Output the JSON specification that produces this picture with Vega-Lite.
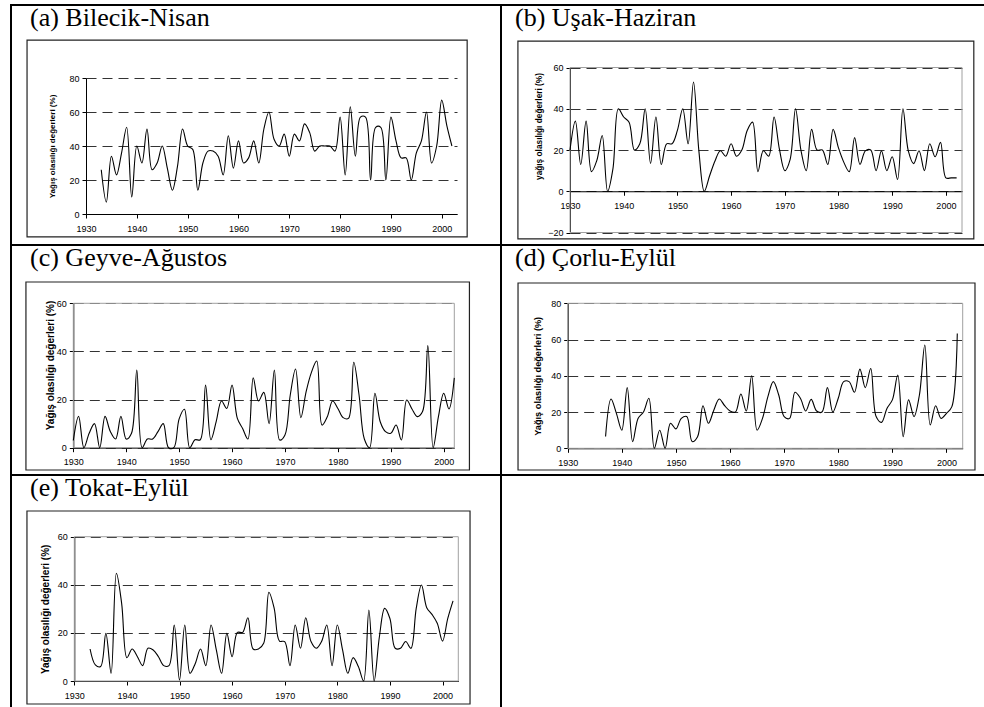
{
  "$schema": "https://vega.github.io/schema/vega-lite/v6.json",
  "padding": {"left": 10, "top": 4, "right": -4, "bottom": -9},
  "background": "white",
  "config": {
    "view": {"stroke": "black", "strokeWidth": 2},
    "title": {"anchor": "start", "frame": "group", "offset": -26, "baseline": "alphabetic", "font": "Times New Roman, Liberation Serif, Tinos, serif", "fontSize": 26, "fontWeight": "normal", "color": "black"},
    "axis": {"labelFont": "Liberation Sans", "labelFontSize": 9, "labelColor": "black", "domainColor": "black", "domainWidth": 1, "tickColor": "black", "tickSize": 4, "titleFont": "Liberation Sans", "titleFontWeight": "bold", "titleColor": "black", "gridColor": "#333333", "gridDash": [10, 6], "gridWidth": 1, "labelOverlap": false, "labelFlush": false}
  },
  "datasets": {
    "a": [
      {"year":1933,"value":26},{"year":1934,"value":7},{"year":1935,"value":34},{"year":1936,"value":23},{"year":1937,"value":36},{"year":1938,"value":51},{"year":1939,"value":10},{"year":1940,"value":40},{"year":1941,"value":30},{"year":1942,"value":50},{"year":1943,"value":26},{"year":1944,"value":30},{"year":1945,"value":40},{"year":1946,"value":27},{"year":1947,"value":14},{"year":1948,"value":28},{"year":1949,"value":50},{"year":1950,"value":40},{"year":1951,"value":38},{"year":1952,"value":14},{"year":1953,"value":30},{"year":1954,"value":37},{"year":1955,"value":37},{"year":1956,"value":34},{"year":1957,"value":23},{"year":1958,"value":46},{"year":1959,"value":27},{"year":1960,"value":43},{"year":1961,"value":30},{"year":1962,"value":33},{"year":1963,"value":43},{"year":1964,"value":30},{"year":1965,"value":50},{"year":1966,"value":60},{"year":1967,"value":44},{"year":1968,"value":40},{"year":1969,"value":47},{"year":1970,"value":34},{"year":1971,"value":47},{"year":1972,"value":43},{"year":1973,"value":53},{"year":1974,"value":48},{"year":1975,"value":37},{"year":1976,"value":40},{"year":1977,"value":40},{"year":1978,"value":40},{"year":1979,"value":37},{"year":1980,"value":57},{"year":1981,"value":23},{"year":1982,"value":63},{"year":1983,"value":34},{"year":1984,"value":57},{"year":1985,"value":57},{"year":1986,"value":20},{"year":1987,"value":51},{"year":1988,"value":51},{"year":1989,"value":20},{"year":1990,"value":57},{"year":1991,"value":43},{"year":1992,"value":33},{"year":1993,"value":33},{"year":1994,"value":20},{"year":1995,"value":36},{"year":1996,"value":43},{"year":1997,"value":60},{"year":1998,"value":30},{"year":1999,"value":40},{"year":2000,"value":67},{"year":2001,"value":52},{"year":2002,"value":40}
    ],
    "b": [
      {"year":1930,"value":20},{"year":1931,"value":34},{"year":1932,"value":13},{"year":1933,"value":34},{"year":1934,"value":9.5},{"year":1935,"value":15},{"year":1936,"value":27},{"year":1937,"value":0},{"year":1938,"value":11},{"year":1939,"value":40},{"year":1940,"value":36},{"year":1941,"value":33.5},{"year":1942,"value":20},{"year":1943,"value":23},{"year":1944,"value":40},{"year":1945,"value":13.5},{"year":1946,"value":36},{"year":1947,"value":13},{"year":1948,"value":23},{"year":1949,"value":23},{"year":1950,"value":29.5},{"year":1951,"value":40},{"year":1952,"value":23},{"year":1953,"value":53},{"year":1954,"value":19.6},{"year":1955,"value":0},{"year":1956,"value":7.5},{"year":1957,"value":14.7},{"year":1958,"value":19.6},{"year":1959,"value":17},{"year":1960,"value":23},{"year":1961,"value":17},{"year":1962,"value":20},{"year":1963,"value":29.5},{"year":1964,"value":33.5},{"year":1965,"value":9.5},{"year":1966,"value":19.6},{"year":1967,"value":17},{"year":1968,"value":36},{"year":1969,"value":20.4},{"year":1970,"value":10},{"year":1971,"value":15.5},{"year":1972,"value":40},{"year":1973,"value":20},{"year":1974,"value":10},{"year":1975,"value":30},{"year":1976,"value":20},{"year":1977,"value":20},{"year":1978,"value":13},{"year":1979,"value":30},{"year":1980,"value":21},{"year":1981,"value":14},{"year":1982,"value":9.5},{"year":1983,"value":26},{"year":1984,"value":13},{"year":1985,"value":19.6},{"year":1986,"value":20},{"year":1987,"value":10},{"year":1988,"value":19.6},{"year":1989,"value":10},{"year":1990,"value":16.7},{"year":1991,"value":5.7},{"year":1992,"value":40},{"year":1993,"value":19.6},{"year":1994,"value":13.4},{"year":1995,"value":19.6},{"year":1996,"value":10},{"year":1997,"value":23},{"year":1998,"value":16.7},{"year":1999,"value":23.7},{"year":2000,"value":6.5},{"year":2001,"value":6.5},{"year":2002,"value":6.5}
    ],
    "c": [
      {"year":1930,"value":3},{"year":1931,"value":13},{"year":1932,"value":0},{"year":1933,"value":6},{"year":1934,"value":10},{"year":1935,"value":0},{"year":1936,"value":13},{"year":1937,"value":6.7},{"year":1938,"value":3.6},{"year":1939,"value":13},{"year":1940,"value":3.6},{"year":1941,"value":6},{"year":1942,"value":32.3},{"year":1943,"value":0},{"year":1944,"value":3.6},{"year":1945,"value":3.6},{"year":1946,"value":6.7},{"year":1947,"value":10},{"year":1948,"value":0},{"year":1949,"value":0},{"year":1950,"value":12},{"year":1951,"value":16},{"year":1952,"value":0},{"year":1953,"value":3.3},{"year":1954,"value":3.3},{"year":1955,"value":26},{"year":1956,"value":3.3},{"year":1957,"value":10.8},{"year":1958,"value":19.4},{"year":1959,"value":16.3},{"year":1960,"value":26},{"year":1961,"value":12.2},{"year":1962,"value":8},{"year":1963,"value":3.6},{"year":1964,"value":29},{"year":1965,"value":19.4},{"year":1966,"value":23},{"year":1967,"value":10},{"year":1968,"value":32.3},{"year":1969,"value":3.2},{"year":1970,"value":5.3},{"year":1971,"value":21.9},{"year":1972,"value":32.7},{"year":1973,"value":12.5},{"year":1974,"value":23.3},{"year":1975,"value":31.3},{"year":1976,"value":36},{"year":1977,"value":9.4},{"year":1978,"value":12.9},{"year":1979,"value":19.4},{"year":1980,"value":16.3},{"year":1981,"value":12.5},{"year":1982,"value":12.2},{"year":1983,"value":35.5},{"year":1984,"value":21.9},{"year":1985,"value":3.6},{"year":1986,"value":0},{"year":1987,"value":22.6},{"year":1988,"value":10.8},{"year":1989,"value":6.7},{"year":1990,"value":6},{"year":1991,"value":9.4},{"year":1992,"value":3.2},{"year":1993,"value":19.8},{"year":1994,"value":16.1},{"year":1995,"value":12.9},{"year":1996,"value":15},{"year":1997,"value":42.4},{"year":1998,"value":0},{"year":1999,"value":12.9},{"year":2000,"value":22.6},{"year":2001,"value":16.1},{"year":2002,"value":29}
    ],
    "d": [
      {"year":1937,"value":6.5},{"year":1938,"value":27.2},{"year":1939,"value":19.3},{"year":1940,"value":10},{"year":1941,"value":33.5},{"year":1942,"value":3.7},{"year":1943,"value":16.5},{"year":1944,"value":20},{"year":1945,"value":27.6},{"year":1946,"value":0},{"year":1947,"value":10},{"year":1948,"value":0},{"year":1949,"value":13.8},{"year":1950,"value":10.7},{"year":1951,"value":16.5},{"year":1952,"value":17.5},{"year":1953,"value":3.7},{"year":1954,"value":6.4},{"year":1955,"value":23.5},{"year":1956,"value":13.8},{"year":1957,"value":21},{"year":1958,"value":27.2},{"year":1959,"value":23.5},{"year":1960,"value":20.6},{"year":1961,"value":20},{"year":1962,"value":30},{"year":1963,"value":20.6},{"year":1964,"value":40},{"year":1965,"value":10},{"year":1966,"value":16.5},{"year":1967,"value":28.5},{"year":1968,"value":36.8},{"year":1969,"value":29.4},{"year":1970,"value":17.5},{"year":1971,"value":16.5},{"year":1972,"value":30.9},{"year":1973,"value":27.6},{"year":1974,"value":20.6},{"year":1975,"value":27},{"year":1976,"value":20.6},{"year":1977,"value":20},{"year":1978,"value":33.5},{"year":1979,"value":20},{"year":1980,"value":27.6},{"year":1981,"value":36.8},{"year":1982,"value":36.8},{"year":1983,"value":30.9},{"year":1984,"value":43.7},{"year":1985,"value":33.5},{"year":1986,"value":44},{"year":1987,"value":17.5},{"year":1988,"value":14.3},{"year":1989,"value":22},{"year":1990,"value":26.7},{"year":1991,"value":40.4},{"year":1992,"value":6.4},{"year":1993,"value":26.7},{"year":1994,"value":17.5},{"year":1995,"value":29.4},{"year":1996,"value":57},{"year":1997,"value":12.9},{"year":1998,"value":23.5},{"year":1999,"value":16.5},{"year":2000,"value":19.3},{"year":2001,"value":23},{"year":2002,"value":63.4}
    ],
    "e": [
      {"year":1933,"value":13.3},{"year":1934,"value":6.7},{"year":1935,"value":6},{"year":1936,"value":19.8},{"year":1937,"value":3.2},{"year":1938,"value":44.8},{"year":1939,"value":32.3},{"year":1940,"value":9.7},{"year":1941,"value":13.3},{"year":1942,"value":10.1},{"year":1943,"value":6.4},{"year":1944,"value":13.6},{"year":1945,"value":12.9},{"year":1946,"value":10.1},{"year":1947,"value":6.4},{"year":1948,"value":6.4},{"year":1949,"value":23.3},{"year":1950,"value":0.4},{"year":1951,"value":23.3},{"year":1952,"value":3.2},{"year":1953,"value":7.3},{"year":1954,"value":13.3},{"year":1955,"value":6.4},{"year":1956,"value":23.3},{"year":1957,"value":12.9},{"year":1958,"value":3.2},{"year":1959,"value":19.8},{"year":1960,"value":10.1},{"year":1961,"value":20.2},{"year":1962,"value":20.2},{"year":1963,"value":26.3},{"year":1964,"value":13.3},{"year":1965,"value":13.3},{"year":1966,"value":15.7},{"year":1967,"value":36.9},{"year":1968,"value":30.2},{"year":1969,"value":16.6},{"year":1970,"value":16.4},{"year":1971,"value":6.4},{"year":1972,"value":23.3},{"year":1973,"value":13.6},{"year":1974,"value":26.3},{"year":1975,"value":16.4},{"year":1976,"value":13.6},{"year":1977,"value":16.4},{"year":1978,"value":23.3},{"year":1979,"value":6.4},{"year":1980,"value":23.3},{"year":1981,"value":12.9},{"year":1982,"value":3.2},{"year":1983,"value":9.7},{"year":1984,"value":6},{"year":1985,"value":0},{"year":1986,"value":29.5},{"year":1987,"value":0},{"year":1988,"value":18.4},{"year":1989,"value":30.2},{"year":1990,"value":26},{"year":1991,"value":13.6},{"year":1992,"value":13.6},{"year":1993,"value":16.4},{"year":1994,"value":13.6},{"year":1995,"value":30.2},{"year":1996,"value":39.9},{"year":1997,"value":30.5},{"year":1998,"value":27.7},{"year":1999,"value":24},{"year":2000,"value":16.6},{"year":2001,"value":26},{"year":2002,"value":33.3}
    ]
  },
  "spacing": 0,
  "bounds": "flush",
  "columns": 2,
  "concat": [
    {
      "width": 490, "height": 240,
      "title": {"text": "(a) Bilecik-Nisan", "dx": 19},
      "layer": [
        {
          "data": {"name": "a"},
          "mark": {"type": "line", "interpolate": "catmull-rom", "color": "black", "strokeWidth": 1.1},
          "encoding": {
            "x": {"field": "year", "type": "quantitative", "scale": {"domain": [1930, 2003], "range": [75, 446], "nice": false, "zero": false},
                  "axis": {"values": [1930,1940,1950,1960,1970,1980,1990,2000], "format": "d", "title": null, "grid": false, "offset": -31, "labelPadding": 6}},
            "y": {"field": "value", "type": "quantitative", "scale": {"domain": [0, 80], "range": [209, 73], "nice": false, "zero": false},
                  "axis": {"values": [0,20,40,60,80], "title": "Yağış olasılığı değerleri (%)", "titleFontSize": 8, "titlePadding": 12, "grid": true, "offset": -75, "labelPadding": 3}}
          }
        },
        {
          "data": {"values": [{}]},
          "mark": {"type": "rect", "fill": "transparent", "stroke": "#222222", "strokeWidth": 1.2},
          "encoding": {
            "x": {"datum": 1918.4, "type": "quantitative"},
            "x2": {"datum": 2005.0},
            "y": {"datum": 102.3, "type": "quantitative"},
            "y2": {"datum": -13.5}
          }
        }
      ]
    },
    {
      "width": 486, "height": 240,
      "title": {"text": "(b) Uşak-Haziran", "dx": 14},
      "layer": [
        {
          "data": {"values": [{}]},
          "mark": {"type": "rect", "fill": "transparent", "stroke": "#a0a0a0", "strokeWidth": 1},
          "encoding": {
            "x": {"datum": 1930, "type": "quantitative"},
            "x2": {"datum": 2003},
            "y": {"datum": -20, "type": "quantitative"},
            "y2": {"datum": 60}
          }
        },
        {
          "data": {"name": "b"},
          "mark": {"type": "line", "interpolate": "catmull-rom", "color": "black", "strokeWidth": 1.1},
          "encoding": {
            "x": {"field": "year", "type": "quantitative", "scale": {"domain": [1930, 2003], "range": [69, 461], "nice": false, "zero": false},
                  "axis": {"values": [1930,1940,1950,1960,1970,1980,1990,2000], "format": "d", "title": null, "grid": false, "offset": -53.75, "labelPadding": 6}},
            "y": {"field": "value", "type": "quantitative", "scale": {"domain": [-20, 60], "range": [227.5, 62.5], "nice": false, "zero": false},
                  "axis": {"values": [-20,0,20,40,60], "title": "yağış olasılığı değerleri (%)", "titleFontSize": 8.3, "titlePadding": 4, "titleY": 121, "grid": true, "offset": -69, "labelPadding": 3}}
          }
        },
        {
          "data": {"values": [{}]},
          "mark": {"type": "rect", "fill": "transparent", "stroke": "#222222", "strokeWidth": 1.2},
          "encoding": {
            "x": {"datum": 1920.3, "type": "quantitative"},
            "x2": {"datum": 2005.2},
            "y": {"datum": 72.8, "type": "quantitative"},
            "y2": {"datum": -23.1}
          }
        }
      ]
    },
    {
      "width": 490, "height": 230,
      "title": {"text": "(c) Geyve-Ağustos", "dx": 19},
      "layer": [
        {
          "data": {"values": [{}]},
          "mark": {"type": "rect", "fill": "transparent", "stroke": "#a0a0a0", "strokeWidth": 1},
          "encoding": {
            "x": {"datum": 1930, "type": "quantitative"},
            "x2": {"datum": 2002},
            "y": {"datum": 0, "type": "quantitative"},
            "y2": {"datum": 60}
          }
        },
        {
          "data": {"name": "c"},
          "mark": {"type": "line", "interpolate": "catmull-rom", "color": "black", "strokeWidth": 1.1},
          "encoding": {
            "x": {"field": "year", "type": "quantitative", "scale": {"domain": [1930, 2002], "range": [62.3, 443.3], "nice": false, "zero": false},
                  "axis": {"values": [1930,1940,1950,1960,1970,1980,1990,2000], "format": "d", "title": null, "grid": false, "offset": -27.3, "labelPadding": 6}},
            "y": {"field": "value", "type": "quantitative", "scale": {"domain": [0, 60], "range": [202.7, 58.3], "nice": false, "zero": false},
                  "axis": {"values": [0,20,40,60], "title": "Yağış olasılığı değerleri (%)", "titleFontSize": 10, "titlePadding": 1, "titleY": 120, "grid": true, "offset": -62.3, "labelPadding": 3}}
          }
        },
        {
          "data": {"values": [{}]},
          "mark": {"type": "rect", "fill": "transparent", "stroke": "#222222", "strokeWidth": 1.2},
          "encoding": {
            "x": {"datum": 1921.05, "type": "quantitative"},
            "x2": {"datum": 2004.86},
            "y": {"datum": 68.85, "type": "quantitative"},
            "y2": {"datum": -9.27}
          }
        }
      ]
    },
    {
      "width": 486, "height": 230,
      "title": {"text": "(d) Çorlu-Eylül", "dx": 14},
      "layer": [
        {
          "data": {"values": [{}]},
          "mark": {"type": "rect", "fill": "transparent", "stroke": "#a0a0a0", "strokeWidth": 1},
          "encoding": {
            "x": {"datum": 1930, "type": "quantitative"},
            "x2": {"datum": 2003},
            "y": {"datum": 0, "type": "quantitative"},
            "y2": {"datum": 80}
          }
        },
        {
          "data": {"name": "d"},
          "mark": {"type": "line", "interpolate": "catmull-rom", "color": "black", "strokeWidth": 1.1},
          "encoding": {
            "x": {"field": "year", "type": "quantitative", "scale": {"domain": [1930, 2003], "range": [66.7, 461.7], "nice": false, "zero": false},
                  "axis": {"values": [1930,1940,1950,1960,1970,1980,1990,2000], "format": "d", "title": null, "grid": false, "offset": -26.7, "labelPadding": 6}},
            "y": {"field": "value", "type": "quantitative", "scale": {"domain": [0, 80], "range": [203.3, 58.3], "nice": false, "zero": false},
                  "axis": {"values": [0,20,40,60,80], "title": "Yağış olasılığı değerleri (%)", "titleFontSize": 9.2, "titlePadding": 8, "grid": true, "offset": -66.7, "labelPadding": 3}}
          }
        },
        {
          "data": {"values": [{}]},
          "mark": {"type": "rect", "fill": "transparent", "stroke": "#222222", "strokeWidth": 1.2},
          "encoding": {
            "x": {"datum": 1920.82, "type": "quantitative"},
            "x2": {"datum": 2005.27},
            "y": {"datum": 91.2, "type": "quantitative"},
            "y2": {"datum": -11.97}
          }
        }
      ]
    },
    {
      "width": 490, "height": 240,
      "title": {"text": "(e) Tokat-Eylül", "dx": 19},
      "layer": [
        {
          "data": {"values": [{}]},
          "mark": {"type": "rect", "fill": "transparent", "stroke": "#a0a0a0", "strokeWidth": 1},
          "encoding": {
            "x": {"datum": 1930, "type": "quantitative"},
            "x2": {"datum": 2003},
            "y": {"datum": 0, "type": "quantitative"},
            "y2": {"datum": 60}
          }
        },
        {
          "data": {"name": "e"},
          "mark": {"type": "line", "interpolate": "catmull-rom", "color": "black", "strokeWidth": 1.1},
          "encoding": {
            "x": {"field": "year", "type": "quantitative", "scale": {"domain": [1930, 2003], "range": [63.3, 447.3], "nice": false, "zero": false},
                  "axis": {"values": [1930,1940,1950,1960,1970,1980,1990,2000], "format": "d", "title": null, "grid": false, "offset": -34, "labelPadding": 6}},
            "y": {"field": "value", "type": "quantitative", "scale": {"domain": [0, 60], "range": [206, 61.7], "nice": false, "zero": false},
                  "axis": {"values": [0,20,40,60], "title": "Yağış olasılığı değerleri (%)", "titleFontSize": 10, "titlePadding": 7, "grid": true, "offset": -63.3, "labelPadding": 3}}
          }
        },
        {
          "data": {"values": [{}]},
          "mark": {"type": "rect", "fill": "transparent", "stroke": "#222222", "strokeWidth": 1.2},
          "encoding": {
            "x": {"datum": 1921.0, "type": "quantitative"},
            "x2": {"datum": 2005.23},
            "y": {"datum": 70.69, "type": "quantitative"},
            "y2": {"datum": -9.56}
          }
        }
      ]
    },
    {
      "width": 486, "height": 240,
      "data": {"values": []},
      "mark": {"type": "point", "opacity": 0},
      "encoding": {}
    }
  ]
}
